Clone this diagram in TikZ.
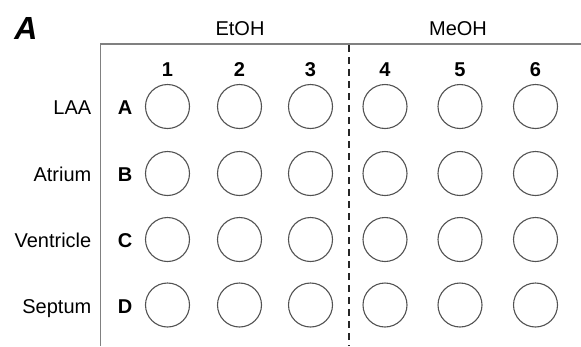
\documentclass[tikz,border=0pt]{standalone}
\usepackage{fontspec}
\setmainfont{Liberation Sans}
\begin{document}
\begin{tikzpicture}[x=1pt,y=-1pt,
  lbl/.style={inner sep=0pt,font=\fontsize{20}{24}\selectfont},
  bld/.style={inner sep=0pt,font=\fontsize{20}{24}\selectfont\bfseries},
  well/.style={circle,draw=black!68,line width=1.1pt,minimum size=44pt,inner sep=0pt},
  frame/.style={draw=black!50,line width=1.8pt},
  divider/.style={draw=black!85,line width=1.8pt,dash pattern=on 7pt off 5pt}]
\useasboundingbox (0,0) rectangle (581,346);

% panel letter
\node[inner sep=0pt,anchor=base,font=\fontsize{32}{36}\selectfont\bfseries\itshape] (panel) at (26,39) {A};

% frame and divider
\coordinate (tl) at (100.5,44);
\coordinate (tr) at (581,44);
\coordinate (bl) at (100.5,346);
\coordinate (dtop) at (349,45);
\coordinate (dbot) at (349,346);
\draw[frame] (bl) -- (tl) -- (tr);
\draw[divider] (dtop) -- (dbot);

% group headers
\node[lbl,anchor=base] (etoh) at (240,35.5) {EtOH};
\node[lbl,anchor=base] (meoh) at (458,35.5) {MeOH};

% columns
\foreach \c/\x in {1/167.5,2/239.5,3/310.5,4/385,5/460,6/535.5}{
  \node[bld,anchor=base] (col\c) at (\x,76) {\c};
}

% rows with wells
\foreach \r/\y/\name in {A/106.5/LAA,B/173.5/Atrium,C/239.5/Ventricle,D/305/Septum}{
  \node[lbl,anchor=base east] (name\r) at (91.5,\y+8) {\name};
  \node[bld,anchor=base] (row\r) at (125,\y+8) {\r};
  \foreach \c/\x in {1/167.5,2/239.5,3/310.5,4/385,5/460,6/535.5}{
    \node[well] (w\r\c) at (\x,\y) {};
  }
}
\end{tikzpicture}
\end{document}
